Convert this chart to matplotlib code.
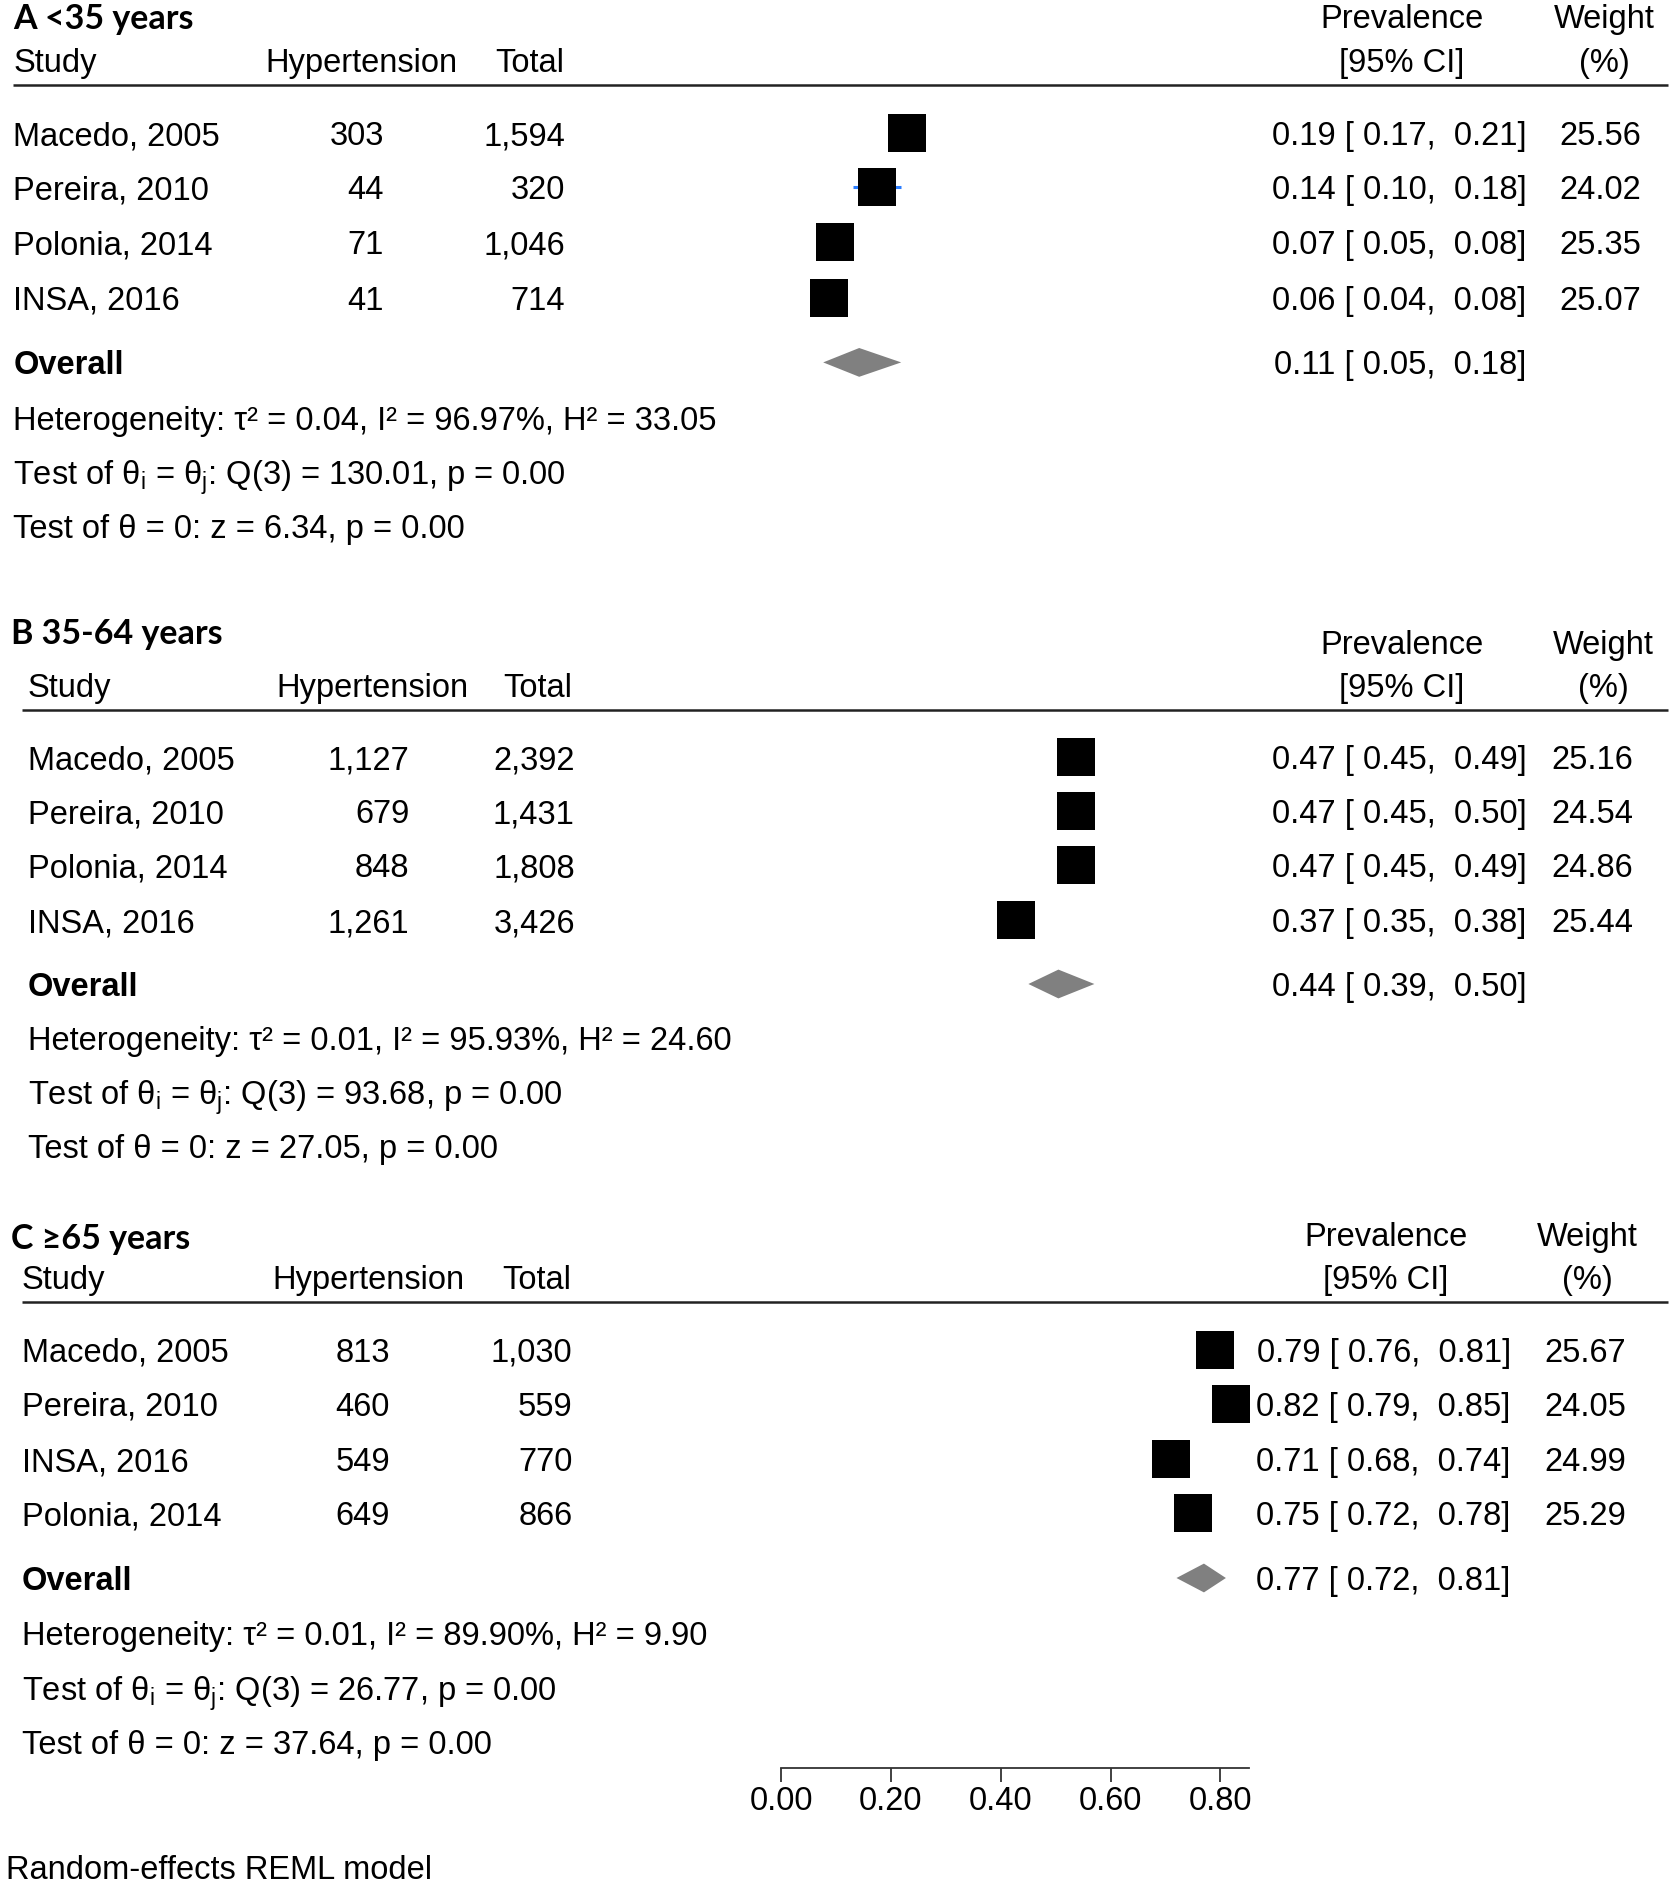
import matplotlib.pyplot as plt

plt.rcParams['font.family'] = ['Liberation Sans', 'DejaVu Sans']
plt.rcParams['mathtext.fontset'] = 'custom'
plt.rcParams['mathtext.rm'] = 'Liberation Sans'
plt.rcParams['mathtext.it'] = 'Liberation Sans:italic'

# ---- data ----
titles = ['A <35 years', 'B 35-64 years', 'C \u226565 years']

studies_a = ['Macedo, 2005', 'Pereira, 2010', 'Polonia, 2014', 'INSA, 2016']
hyp_a = [303, 44, 71, 41]
total_a = [1594, 320, 1046, 714]
prev_a = [0.19, 0.14, 0.07, 0.06]
lo_a = [0.17, 0.10, 0.05, 0.04]
hi_a = [0.21, 0.18, 0.08, 0.08]
weight_a = [25.56, 24.02, 25.35, 25.07]
overall_a = [0.11, 0.05, 0.18]
het_a = [0.04, 96.97, 33.05]      # tau2, I2, H2
q_a = [3, 130.01, 0.00]           # df, Q, p
z_a = [6.34, 0.00]                # z, p

studies_b = ['Macedo, 2005', 'Pereira, 2010', 'Polonia, 2014', 'INSA, 2016']
hyp_b = [1127, 679, 848, 1261]
total_b = [2392, 1431, 1808, 3426]
prev_b = [0.47, 0.47, 0.47, 0.37]
lo_b = [0.45, 0.45, 0.45, 0.35]
hi_b = [0.49, 0.50, 0.49, 0.38]
weight_b = [25.16, 24.54, 24.86, 25.44]
overall_b = [0.44, 0.39, 0.50]
het_b = [0.01, 95.93, 24.60]
q_b = [3, 93.68, 0.00]
z_b = [27.05, 0.00]

studies_c = ['Macedo, 2005', 'Pereira, 2010', 'INSA, 2016', 'Polonia, 2014']
hyp_c = [813, 460, 549, 649]
total_c = [1030, 559, 770, 866]
prev_c = [0.79, 0.82, 0.71, 0.75]
lo_c = [0.76, 0.79, 0.68, 0.72]
hi_c = [0.81, 0.85, 0.74, 0.78]
weight_c = [25.67, 24.05, 24.99, 25.29]
overall_c = [0.77, 0.72, 0.81]
het_c = [0.01, 89.90, 9.90]
q_c = [3, 26.77, 0.00]
z_c = [37.64, 0.00]

ticks = [0.0, 0.2, 0.4, 0.6, 0.8]
axis_max = 0.852

panels = [
    (titles[0], studies_a, hyp_a, total_a, prev_a, lo_a, hi_a, weight_a, overall_a, het_a, q_a, z_a),
    (titles[1], studies_b, hyp_b, total_b, prev_b, lo_b, hi_b, weight_b, overall_b, het_b, q_b, z_b),
    (titles[2], studies_c, hyp_c, total_c, prev_c, lo_c, hi_c, weight_c, overall_c, het_c, q_c, z_c),
]

# ---- layout (reference pixels at 1400 wide scale) ----
W, H = 1400.0, 1889 / 1.2
layouts = [
    dict(xt=11, yt=13, xn=11, yh1=13, yh2=50, hyp_h=301, tot_h=470, prev_h=1168, w_h=1337,
         line_y=71, line_x0=11, rows=[111, 156, 202, 248], hyp_r=320, tot_r=471,
         ci_r=1272, w_r=1368, y_over=302, y_het=348, y_t1=393, y_t2=438, x0=661, scale=500),
    dict(xt=9, yt=526, xn=23, yh1=535, yh2=571, hyp_h=310, tot_h=477, prev_h=1168, w_h=1336,
         line_y=592, line_x0=18, rows=[631, 676, 721, 767], hyp_r=341, tot_r=479,
         ci_r=1272, w_r=1361, y_over=820, y_het=865, y_t1=910, y_t2=955, x0=662, scale=500),
    dict(xt=9, yt=1030, xn=18, yh1=1028, yh2=1064, hyp_h=307, tot_h=476, prev_h=1155, w_h=1323,
         line_y=1085, line_x0=18, rows=[1125, 1170, 1216, 1261], hyp_r=325, tot_r=477,
         ci_r=1259, w_r=1355, y_over=1315, y_het=1361, y_t1=1406, y_t2=1452, x0=651, scale=457.5),
]

fs = 23.5
blue = '#2a7dff'
grey = '#808080'

fig = plt.figure(figsize=(16.8, 18.89), dpi=100)
tax = fig.add_axes([0, 0, 1, 1])
tax.set_xlim(0, W)
tax.set_ylim(H, 0)
tax.axis('off')


def ci_str(e, lo, hi):
    return f'{e:.2f} [{lo:5.2f}, {hi:5.2f}]'


for (title, studies, hyp, total, prev, lo, hi, weight, overall, het, q, z), L in zip(panels, layouts):
    kw = dict(fontsize=fs, va='center_baseline')
    tax.text(L['xt'], L['yt'], title, fontsize=fs + 1, fontweight='bold',
             family=['Lato', 'DejaVu Sans'], va='center_baseline')
    tax.text(L['xn'], L['yh2'], 'Study', **kw)
    tax.text(L['hyp_h'], L['yh2'], 'Hypertension', ha='center', **kw)
    tax.text(L['tot_h'], L['yh2'], 'Total', ha='right', **kw)
    tax.text(L['prev_h'], L['yh1'], 'Prevalence', ha='center', **kw)
    tax.text(L['prev_h'], L['yh2'], '[95% CI]', ha='center', **kw)
    tax.text(L['w_h'], L['yh1'], 'Weight', ha='center', **kw)
    tax.text(L['w_h'], L['yh2'], '(%)', ha='center', **kw)
    tax.hlines(L['line_y'], L['line_x0'], 1390, color='#222222', lw=1.8)

    for i, s in enumerate(studies):
        y = L['rows'][i]
        tax.text(L['xn'], y, s, **kw)
        tax.text(L['hyp_r'], y, f'{hyp[i]:,}', ha='right', **kw)
        tax.text(L['tot_r'], y, f'{total[i]:,}', ha='right', **kw)
        tax.text(L['ci_r'], y, ci_str(prev[i], lo[i], hi[i]), ha='right', **kw)
        tax.text(L['w_r'], y, f'{weight[i]:.2f}', ha='right', **kw)

    tax.text(L['xn'], L['y_over'], 'Overall', fontweight='bold', **kw)
    tax.text(L['ci_r'], L['y_over'], ci_str(*overall), ha='right', **kw)
    tax.text(L['xn'], L['y_het'],
             f'Heterogeneity: \u03c4\u00b2 = {het[0]:.2f}, I\u00b2 = {het[1]:.2f}%, H\u00b2 = {het[2]:.2f}', **kw)
    tax.text(L['xn'], L['y_t1'],
             f'Test of \u03b8$_\\mathrm{{i}}$ = \u03b8$_\\mathrm{{j}}$: Q({q[0]}) = {q[1]:.2f}, p = {q[2]:.2f}', **kw)
    tax.text(L['xn'], L['y_t2'], f'Test of \u03b8 = 0: z = {z[0]:.2f}, p = {z[1]:.2f}', **kw)

    # marks on an axes whose x scale is the prevalence
    ax = fig.add_axes([0, 0, 1, 1])
    ax.set_xlim(-L['x0'] / L['scale'], (W - L['x0']) / L['scale'])
    ax.set_ylim(H, 0)
    ax.axis('off')
    ax.patch.set_alpha(0)
    ax.hlines(L['rows'], lo, hi, color=blue, lw=2.2, zorder=1)
    for i in range(len(studies)):
        ax.plot(prev[i], L['rows'][i], 's', color='black', ms=5.45 * weight[i] ** 0.5,
                mec='black', mew=0, zorder=2)
    yo = L['y_over']
    ax.fill([overall[1], overall[0], overall[2], overall[0]], [yo, yo - 12, yo, yo + 12],
            color=grey, lw=0, zorder=2)

# bottom axis, on the scale of panel C
L = layouts[2]
axx = fig.add_axes([0, 1 - 1473 / H, 1, 0.0005])
axx.set_xlim(-L['x0'] / L['scale'], (W - L['x0']) / L['scale'])
axx.patch.set_alpha(0)
for sp in ['top', 'left', 'right']:
    axx.spines[sp].set_visible(False)
axx.spines['bottom'].set_bounds(0, axis_max)
axx.spines['bottom'].set_linewidth(1.3)
axx.spines['bottom'].set_color('#333333')
axx.set_yticks([])
axx.set_xticks(ticks)
axx.set_xticklabels([f'{t:.2f}' for t in ticks], fontsize=fs)
axx.tick_params(axis='x', length=10, width=1.3, color='#333333', pad=3)

tax.text(5, 1556, 'Random-effects REML model', fontsize=fs, va='center_baseline')

fig.savefig('out.png', dpi=100)
